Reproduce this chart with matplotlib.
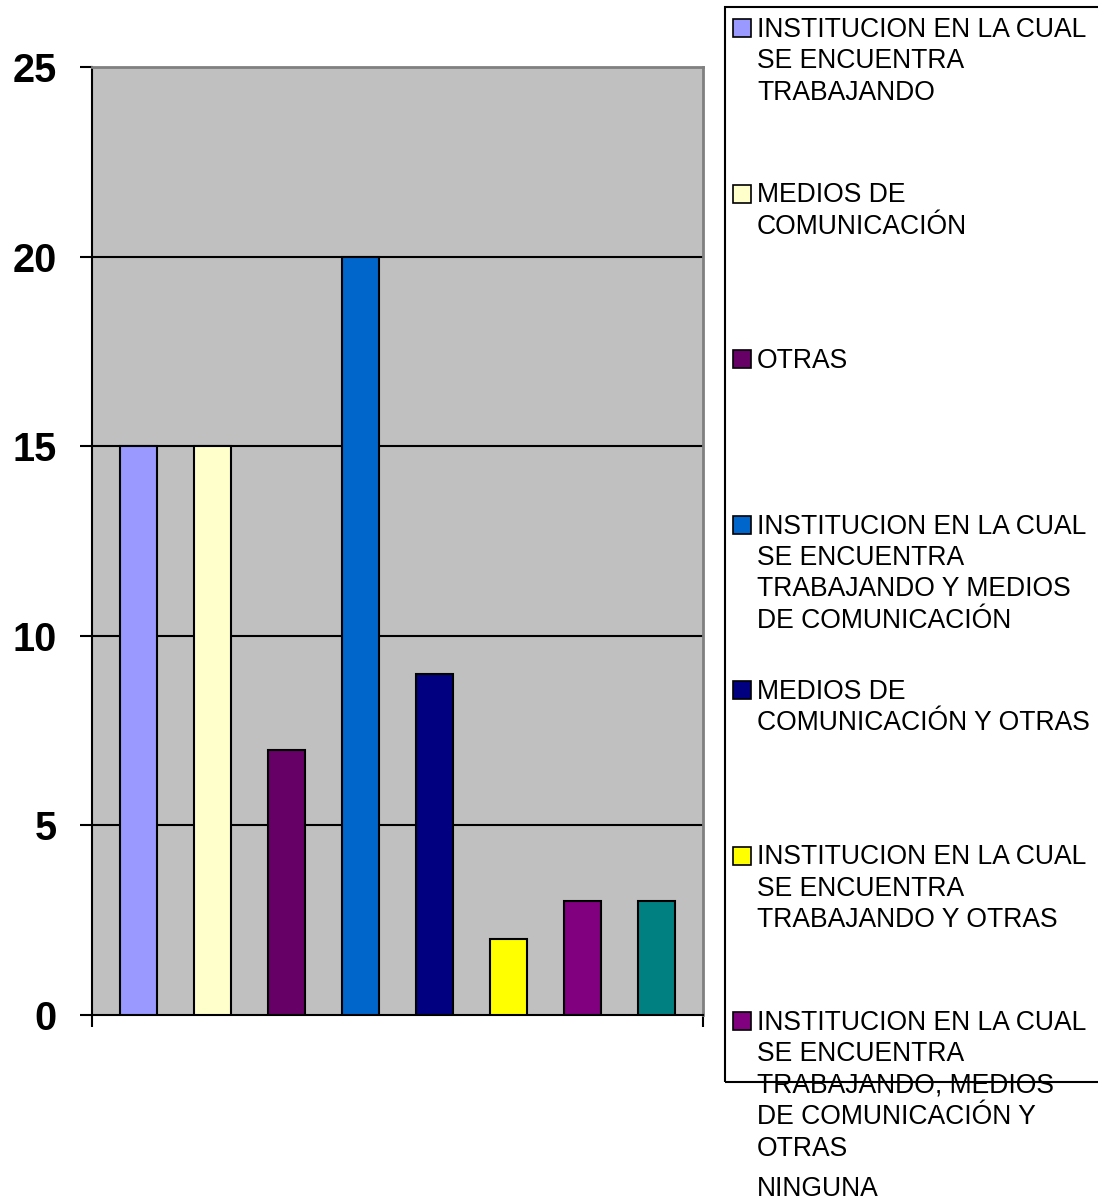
import matplotlib.pyplot as plt
import matplotlib.patches as patches

plt.rcParams['font.family'] = ['Liberation Sans', 'DejaVu Sans']

# data
categories = [
    'INSTITUCION EN LA CUAL\nSE ENCUENTRA\nTRABAJANDO',
    'MEDIOS DE\nCOMUNICACIÓN',
    'OTRAS',
    'INSTITUCION EN LA CUAL\nSE ENCUENTRA\nTRABAJANDO Y MEDIOS\nDE COMUNICACIÓN',
    'MEDIOS DE\nCOMUNICACIÓN Y OTRAS',
    'INSTITUCION EN LA CUAL\nSE ENCUENTRA\nTRABAJANDO Y OTRAS',
    'INSTITUCION EN LA CUAL\nSE ENCUENTRA\nTRABAJANDO, MEDIOS\nDE COMUNICACIÓN Y\nOTRAS',
    'NINGUNA',
]
values = [15, 15, 7, 20, 9, 2, 3, 3]
colors = ['#9999FF', '#FFFFCC', '#660066', '#0066CC',
          '#000080', '#FFFF00', '#800080', '#008080']
yticks = [0, 5, 10, 15, 20, 25]

W, H = 1098, 1201
fig = plt.figure(figsize=(W / 100, H / 100), dpi=100)
ax = fig.add_axes([92 / W, 1 - 1015 / H, (703 - 92) / W, (1015 - 67) / H])
ax.set_facecolor('#C0C0C0')

x = list(range(len(values)))
ax.bar(x, values, width=0.5, color=colors, edgecolor='black', linewidth=1.5, zorder=3)

ax.set_xlim(-0.628, 7.628)
ax.set_ylim(0, 25)
ax.set_yticks(yticks)
ax.set_yticklabels([str(t) for t in yticks], fontsize=28.5, fontweight='bold')
ax.set_xticks([-0.628, 7.628])
ax.set_xticklabels(['', ''])
ax.tick_params(axis='y', direction='out', length=8.6, width=1.5, pad=17)
ax.tick_params(axis='x', direction='out', length=8.6, width=1.5)
for t in yticks[1:-1]:
    ax.axhline(t, color='black', linewidth=1.5, zorder=1)

ax.spines['left'].set_linewidth(1.5)
ax.spines['bottom'].set_linewidth(1.5)
ax.spines['top'].set_color('#808080')
ax.spines['right'].set_color('#808080')
ax.spines['top'].set_linewidth(2)
ax.spines['right'].set_linewidth(2)

# legend drawn manually (it overflows its box in the original)
box_left, box_top, box_bottom = 725, 7, 1082
fig.patches.append(patches.Rectangle(
    (box_left / W, 1 - box_bottom / H), (W + 10 - box_left) / W, (box_bottom - box_top) / H,
    transform=fig.transFigure, facecolor='none', edgecolor='black', linewidth=1.5))

step = 165.5
for i, (label, c) in enumerate(zip(categories, colors)):
    yc = 28 + step * i
    if yc + 9 < box_bottom:
        fig.patches.append(patches.Rectangle(
            (733 / W, 1 - (yc + 9) / H), 18 / W, 18 / H,
            transform=fig.transFigure, facecolor=c, edgecolor='black', linewidth=1.2))
    fig.text(757 / W, 1 - (yc - 11) / H, label, fontsize=19.1, va='top', ha='left',
             linespacing=1.27)

fig.savefig('out.png', dpi=100)
